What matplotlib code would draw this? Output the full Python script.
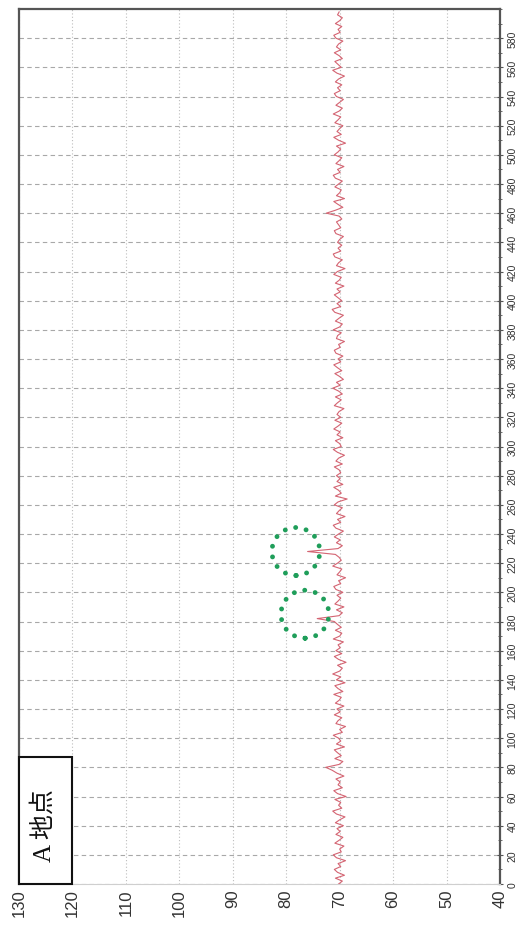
import numpy as np
import matplotlib
matplotlib.use('Agg')
import matplotlib.pyplot as plt
from matplotlib.patches import Ellipse, Rectangle
from matplotlib.ticker import MultipleLocator

# Measured series (value at every 2 units of distance, 0..598)
values = [
    70.2, 69.5, 70.8, 69.1, 70.4, 71.0, 69.8, 70.3, 68.9, 70.6, 71.2, 69.7, 70.0, 69.2, 70.9, 70.1, 69.4, 70.7, 69.9, 70.5,
    69.3, 70.8, 70.0, 69.0, 70.6, 71.3, 69.6, 70.2, 69.8, 70.9, 68.8, 70.4, 71.1, 69.5, 70.3, 69.9, 70.7, 69.2, 70.5, 71.4,
    72.6, 70.1, 69.4, 70.9, 69.7, 70.4, 71.0, 69.1, 70.6, 69.8, 70.2, 71.2, 69.5, 70.0, 68.9, 70.7, 70.3, 69.6, 71.0, 69.9,
    70.5, 69.2, 70.8, 70.1, 69.7, 71.1, 69.4, 70.3, 70.9, 69.0, 70.6, 69.8, 71.3, 70.0, 69.5, 70.4, 68.8, 70.2, 71.0, 69.6,
    70.7, 69.9, 70.3, 69.3, 71.2, 70.0, 69.6, 70.8, 69.7, 70.4, 71.0, 74.2, 70.1, 69.5, 70.6, 69.2, 70.9, 70.3, 69.8, 70.5,
    69.4, 70.7, 71.1, 69.8, 70.2, 68.9, 70.5, 70.0, 69.6, 71.3, 70.4, 69.7, 70.1, 70.8, 76.0, 70.3, 69.5, 70.6, 69.9, 71.0,
    70.2, 69.3, 70.7, 71.2, 69.8, 70.4, 69.0, 70.6, 70.1, 69.5, 71.0, 70.3, 68.6, 70.8, 69.7, 70.2, 71.1, 69.4, 70.5, 69.9,
    70.6, 69.8, 70.1, 71.0, 69.5, 70.7, 70.2, 69.1, 70.4, 71.2, 69.7, 70.0, 70.8, 69.4, 70.5, 69.9, 71.1, 70.3, 69.6, 70.9,
    69.8, 70.5, 70.1, 69.2, 71.0, 70.4, 69.7, 70.8, 69.5, 70.2, 71.3, 69.9, 70.6, 69.3, 70.0, 70.9, 69.6, 70.4, 71.1, 69.8,
    70.3, 69.4, 70.7, 71.0, 69.9, 70.2, 69.1, 70.6, 70.4, 69.7, 71.2, 70.0, 69.5, 70.8, 70.1, 69.3, 70.9, 71.4, 69.8, 70.5,
    69.6, 70.3, 71.0, 69.9, 70.5, 69.2, 70.8, 70.1, 69.7, 71.1, 70.4, 69.0, 70.6, 70.2, 69.5, 70.9, 71.2, 69.8, 70.3, 69.6,
    70.4, 70.0, 69.3, 70.7, 71.0, 69.8, 70.2, 70.6, 69.6, 70.1, 72.5, 70.8, 69.4, 70.3, 71.1, 69.1, 70.6, 70.0, 69.7, 70.9,
    70.2, 69.5, 70.8, 71.2, 69.9, 70.4, 69.2, 70.7, 70.1, 69.6, 71.0, 70.3, 69.8, 70.6, 68.9, 70.2, 71.1, 69.7, 70.5, 70.0,
    69.4, 70.9, 70.3, 69.8, 71.2, 70.1, 69.5, 70.7, 70.0, 69.3, 70.6, 71.0, 69.9, 70.4, 69.6, 70.8, 70.2, 69.1, 70.5, 71.3,
    69.7, 70.3, 70.9, 69.5, 70.1, 71.0, 69.8, 70.6, 70.2, 69.4, 70.7, 71.1, 69.9, 70.3, 69.6, 70.8, 70.0, 69.5, 70.4, 70.1,
]
positions = np.arange(len(values)) * 2

value_ticks = [130, 120, 110, 100, 90, 80, 70, 60, 50, 40]
pos_ticks = list(range(0, 600, 20))

# Highlighted anomalies (green dotted circles)
circle_pos = [185, 228]
circle_val = [76.5, 78.2]

label_text = 'A 地点'

W, H = 526, 945
fig = plt.figure(figsize=(W / 100, H / 100), dpi=100)
L, R, T, B = 19, 500, 10, 885
ax = fig.add_axes([L / W, (H - B) / H, (R - L) / W, (B - T) / H])

ax.plot(values, positions, color='#d46472', lw=0.8, zorder=3)

ax.set_xlim(130, 40)
ax.set_ylim(0, 600)

ax.set_xticks(value_ticks)
ax.set_xticklabels([str(v) for v in value_ticks], rotation=90,
                   fontsize=12, family='Liberation Sans', color='#333333')
ax.tick_params(axis='x', length=0, pad=3)

ax.yaxis.tick_right()
ax.set_yticks(pos_ticks)
ax.set_yticklabels([str(p) for p in pos_ticks], rotation=90, va='center',
                   fontsize=7.5, family='Liberation Sans', color='#333333')
ax.yaxis.set_minor_locator(MultipleLocator(10))
ax.tick_params(axis='y', which='major', direction='inout', length=5,
               color='#555555', pad=3)
ax.tick_params(axis='y', which='minor', direction='inout', length=3,
               color='#555555')

ax.yaxis.grid(True, which='major', ls=(0, (4, 3)), color='#a8a8a8', lw=0.8)
ax.xaxis.grid(True, ls=(0, (1, 2)), color='#bdbdbd', lw=0.8)

for s in ['left', 'top', 'right']:
    ax.spines[s].set_color('#555555')
    ax.spines[s].set_linewidth(1.6)
ax.spines['bottom'].set_color('#cfcfcf')
ax.spines['bottom'].set_linewidth(0.8)

# green dotted circles (circular on screen)
px_per_val = (R - L) / 90.0
px_per_pos = (B - T) / 600.0
rad_px = 24
for cp, cv in zip(circle_pos, circle_val):
    e = Ellipse((cv, cp), width=2 * rad_px / px_per_val, height=2 * rad_px / px_per_pos,
                fill=False, edgecolor='#1f9e5a', lw=3.5, ls=(0, (0.01, 2.2)),
                capstyle='round', zorder=4)
    ax.add_patch(e)

# label box
box = Rectangle((0, 0), 53 / (R - L), 127 / (B - T), transform=ax.transAxes,
                facecolor='white', edgecolor='#111111', lw=1.5, zorder=5,
                clip_on=False)
ax.add_patch(box)
ax.text((44 - L) / (R - L), (B - 826) / (B - T), label_text, transform=ax.transAxes,
        rotation=90, ha='center', va='center', fontsize=18,
        family=['Liberation Serif', 'Noto Sans CJK JP'], color='#111111', zorder=6)

fig.savefig('out.png', dpi=100, facecolor='white')
